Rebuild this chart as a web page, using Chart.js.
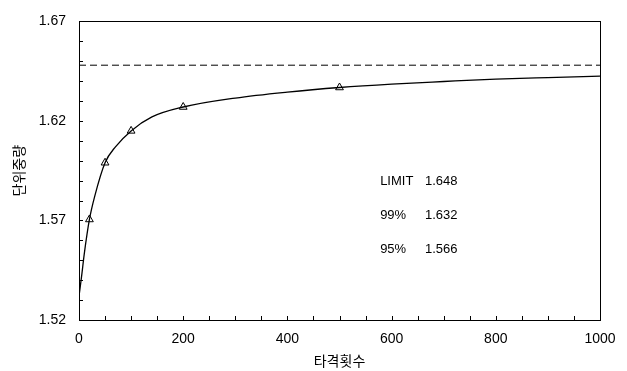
<!DOCTYPE html>
<html>
<head>
<meta charset="utf-8">
<script src="https://cdn.jsdelivr.net/npm/chart.js@4/dist/chart.umd.min.js"></script>
<style>
  html, body { margin: 0; padding: 0; background: #fff; }
  #wrap { width: 627px; height: 371px; }
</style>
</head>
<body>
<div id="wrap"><canvas id="chart" width="627" height="371"></canvas></div>
<script>
// curve (타격횟수 -> 단위중량)
const curveX = [0, 5, 10, 20, 30, 50, 70, 100, 140, 200, 300, 400, 500, 600, 700, 800, 900, 1000];
const curveY = [1.532, 1.542, 1.553, 1.5705, 1.582, 1.599, 1.607, 1.615, 1.622, 1.627, 1.6315, 1.6345, 1.6368, 1.6385, 1.6398, 1.641, 1.6418, 1.6425];

// measured points (triangles)
const pointX = [20, 50, 100, 200, 500];
const pointY = [1.5705, 1.599, 1.615, 1.627, 1.6368];

// limit line
const limitValue = 1.648;
const limitX = [0, 1000];

// text block
const noteLabels = ['LIMIT', '99%', '95%'];
const noteValues = ['1.648', '1.632', '1.566'];

const FONT = "'Liberation Sans', Arial, 'Noto Sans CJK KR', sans-serif";

const frameAndTicks = {
  id: 'frameAndTicks',
  afterDraw(chart) {
    const ctx = chart.ctx;
    const a = chart.chartArea;
    const xs = chart.scales.x;
    const ys = chart.scales.y;
    ctx.save();
    ctx.strokeStyle = '#000';
    ctx.lineWidth = 1;
    ctx.strokeRect(Math.round(a.left) + 0.5, Math.round(a.top) + 0.5,
      Math.round(a.right - a.left), Math.round(a.bottom - a.top));
    // inside minor ticks
    ctx.beginPath();
    for (let v = 50; v < 1000; v += 50) {
      const px = Math.round(xs.getPixelForValue(v)) + 0.5;
      ctx.moveTo(px, a.bottom);
      ctx.lineTo(px, a.bottom - 4);
    }
    for (let i = 1; i < 15; i++) {
      const py = Math.round(ys.getPixelForValue(1.52 + i * 0.01)) + 0.5;
      ctx.moveTo(a.left, py);
      ctx.lineTo(a.left + 4, py);
    }
    ctx.stroke();
    // note text
    ctx.fillStyle = '#000';
    ctx.font = '13px ' + FONT;
    ctx.textBaseline = 'middle';
    const w = a.right - a.left;
    const h = a.bottom - a.top;
    noteLabels.forEach((lab, i) => {
      const y = a.top + h * 0.535 + i * 34;
      ctx.fillText(lab, a.left + w * 0.578, y);
      ctx.fillText(noteValues[i], a.left + w * 0.664, y);
    });
    ctx.restore();
  }
};

new Chart(document.getElementById('chart'), {
  type: 'scatter',
  data: {
    datasets: [
      {
        data: curveX.map((x, i) => ({ x: x, y: curveY[i] })),
        showLine: true,
        borderColor: '#000',
        borderWidth: 1.3,
        pointRadius: 0,
        cubicInterpolationMode: 'monotone'
      },
      {
        data: limitX.map(x => ({ x: x, y: limitValue })),
        showLine: true,
        borderColor: '#000',
        borderWidth: 1,
        borderDash: [7, 4],
        pointRadius: 0
      },
      {
        data: pointX.map((x, i) => ({ x: x, y: pointY[i] })),
        showLine: false,
        pointStyle: 'triangle',
        pointRadius: 4.5,
        pointBackgroundColor: '#fff',
        pointBorderColor: '#000',
        pointBorderWidth: 1
      }
    ]
  },
  options: {
    responsive: false,
    animation: false,
    layout: { padding: { left: 0, top: 14, right: 27, bottom: 0 } },
    plugins: { legend: { display: false }, tooltip: { enabled: false } },
    scales: {
      x: {
        type: 'linear',
        min: 0,
        max: 1000,
        grid: { display: false, drawTicks: false },
        border: { display: true, color: '#000' },
        ticks: {
          stepSize: 200,
          padding: 11,
          color: '#000',
          font: { family: FONT, size: 14 },
          maxRotation: 0,
          callback: v => String(v)
        },
        title: {
          display: true,
          text: '타격횟수',
          color: '#000',
          font: { family: FONT, size: 14 },
          padding: { top: 0, bottom: 0 }
        },
        afterFit(scale) { scale.height = 51; }
      },
      y: {
        min: 1.52,
        max: 1.67,
        grid: { display: false, drawTicks: false },
        border: { display: true, color: '#000' },
        ticks: {
          stepSize: 0.05,
          padding: 13,
          color: '#000',
          font: { family: FONT, size: 14 },
          callback: v => v.toFixed(2)
        },
        title: {
          display: true,
          text: '단위중량',
          color: '#000',
          font: { family: FONT, size: 14 },
          padding: { top: 12, bottom: 0 }
        },
        afterFit(scale) { scale.width = 79; }
      }
    }
  },
  plugins: [frameAndTicks]
});
</script>
</body>
</html>
